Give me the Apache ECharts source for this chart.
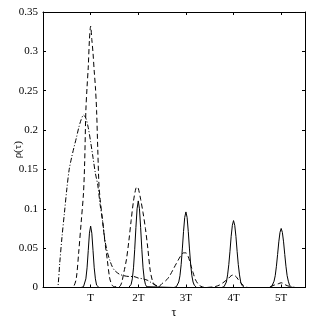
<!DOCTYPE html>
<html><head><meta charset="utf-8">
<script src="https://cdn.jsdelivr.net/npm/echarts@6/dist/echarts.min.js"></script>
<style>html,body{margin:0;padding:0;background:#fff}#c{width:311px;height:320px}</style>
</head><body><div id="c"></div>
<script>
// x in units of T
const xTicks = [1, 2, 3, 4, 5];
const xTickLabels = ['T', '2T', '3T', '4T', '5T'];

const solidX = [0,
 0.8,0.825,0.85,0.875,0.9,0.925,0.95,0.975,1.0,1.025,1.05,1.075,1.1,1.125,1.15,1.175,1.2,
 1.8,1.825,1.85,1.875,1.9,1.925,1.95,1.975,2.0,2.025,2.05,2.075,2.1,2.125,2.15,2.175,2.2,
 2.75,2.775,2.8,2.825,2.85,2.875,2.9,2.925,2.95,2.975,3.0,3.025,3.05,3.075,3.1,3.125,3.15,3.175,3.2,3.225,3.25,
 3.75,3.775,3.8,3.825,3.85,3.875,3.9,3.925,3.95,3.975,4.0,4.025,4.05,4.075,4.1,4.125,4.15,4.175,4.2,4.225,4.25,
 4.75,4.775,4.8,4.825,4.85,4.875,4.9,4.925,4.95,4.975,5.0,5.025,5.05,5.075,5.1,5.125,5.15,5.175,5.2,5.225,5.25,
 5.5];
const solidY = [0,
 0,0,0.001,0.003,0.011,0.025,0.047,0.069,0.078,0.069,0.047,0.025,0.011,0.003,0.001,0,0,
 0,0.001,0.004,0.011,0.025,0.048,0.076,0.1,0.11,0.1,0.076,0.048,0.025,0.011,0.004,0.001,0,
 0,0,0.001,0.003,0.007,0.015,0.029,0.049,0.071,0.089,0.096,0.089,0.071,0.049,0.029,0.015,0.007,0.003,0.001,0,0,
 0,0,0.001,0.003,0.007,0.016,0.029,0.046,0.065,0.079,0.085,0.079,0.065,0.046,0.029,0.016,0.007,0.003,0.001,0,0,
 0,0,0.001,0.003,0.008,0.015,0.027,0.042,0.058,0.070,0.075,0.070,0.058,0.042,0.027,0.015,0.008,0.003,0.001,0,0,
 0];

const dashX = [0,0.6,0.65,0.7,0.75,0.8,0.85,0.875,0.9,0.925,0.95,0.975,1.0,1.025,1.05,1.075,1.1,1.125,1.15,1.175,1.2,1.25,1.3,1.35,1.4,1.45,1.5,
 1.6,1.65,1.7,1.75,1.8,1.85,1.9,1.95,1.975,2.0,2.05,2.1,2.15,2.2,2.25,2.3,2.35,2.4,
 2.45,2.5,2.6,2.67,2.75,2.84,2.9,2.95,3.0,3.05,3.1,3.15,3.2,3.25,3.3,3.4,
 3.6,3.7,3.8,3.9,3.95,4.0,4.05,4.1,4.15,4.2,4.3,
 4.7,4.85,4.95,5.0,5.05,5.1,5.2,5.3,5.5];
const dashY = [0,0,0.002,0.012,0.045,0.082,0.12,0.16,0.225,0.255,0.28,0.315,0.332,0.315,0.298,0.275,0.255,0.225,0.175,0.13,0.112,0.085,0.058,0.035,0.012,0.003,0.001,
 0.001,0.006,0.02,0.035,0.058,0.085,0.11,0.126,0.128,0.126,0.112,0.095,0.075,0.05,0.022,0.008,0.003,0.001,
 0.002,0.005,0.01,0.016,0.025,0.035,0.041,0.044,0.044,0.039,0.029,0.019,0.01,0.005,0.002,0,
 0.001,0.003,0.007,0.012,0.015,0.016,0.014,0.01,0.006,0.003,0,
 0,0.003,0.005,0.006,0.005,0.003,0.001,0,0];

const dashDotX = [0,0.3,0.32,0.35,0.4,0.45,0.5,0.55,0.6,0.65,0.7,0.75,0.8,0.85,0.9,0.95,1.0,1.05,1.1,1.15,1.2,1.25,1.3,1.35,1.4,1.45,1.5,
 1.6,1.7,1.8,1.9,2.0,2.1,2.2,2.3,2.4,2.5,5.5];
const dashDotY = [0,0,0.005,0.03,0.065,0.095,0.125,0.15,0.165,0.178,0.19,0.203,0.213,0.219,0.215,0.203,0.185,0.165,0.145,0.13,0.105,0.085,0.06,0.045,0.035,0.027,0.022,
 0.017,0.015,0.014,0.014,0.012,0.011,0.009,0.005,0.002,0,0];

const yTicks = [0, 0.05, 0.1, 0.15, 0.2, 0.25, 0.3, 0.35];

const pairs = (xs, ys) => xs.map((x, i) => [x, ys[i]]);
const FONT = 'Liberation Serif';
const axisCommon = {
  axisLine: {show: true, onZero: false, lineStyle: {color: '#000', width: 1}},
  axisTick: {show: true, inside: true, length: 3, lineStyle: {color: '#000'}},
  splitLine: {show: false}
};
const chart = echarts.init(document.getElementById('c'), null, {renderer: 'canvas'});
chart.setOption({
  animation: false,
  backgroundColor: '#fff',
  grid: {left: 43, right: 6, top: 12, bottom: 32.5, containLabel: false, outerBoundsMode: 'none'},
  xAxis: [
    Object.assign({}, axisCommon, {
      type: 'value', min: 0, max: 5.5, interval: 1, position: 'bottom',
      name: 'τ', nameLocation: 'middle', nameGap: 19, nameMoveOverlap: false,
      nameTextStyle: {fontFamily: FONT, fontSize: 12, color: '#000'},
      axisLabel: {fontFamily: FONT, fontSize: 11, color: '#000', margin: 5,
        formatter: v => { const i = xTicks.indexOf(v); return i >= 0 ? xTickLabels[i] : ''; }}
    }),
    Object.assign({}, axisCommon, {
      type: 'value', min: 0, max: 5.5, interval: 1, position: 'top', axisLabel: {show: false}
    })
  ],
  yAxis: [
    Object.assign({}, axisCommon, {
      type: 'value', min: 0, max: 0.35, interval: 0.05, position: 'left',
      name: 'ρ(τ)', nameLocation: 'middle', nameGap: 19, nameRotate: 90, nameMoveOverlap: false,
      nameTextStyle: {fontFamily: FONT, fontSize: 11, color: '#000'},
      axisLabel: {fontFamily: FONT, fontSize: 11, color: '#000', margin: 5,
        formatter: v => { const t = yTicks.find(y => Math.abs(y - v) < 1e-9); return t === undefined ? '' : String(t); }}
    }),
    Object.assign({}, axisCommon, {
      type: 'value', min: 0, max: 0.35, interval: 0.05, position: 'right', axisLabel: {show: false}
    })
  ],
  series: [
    {type: 'line', data: pairs(dashDotX, dashDotY), showSymbol: false, smooth: 0.3,
     lineStyle: {color: '#000', width: 1, type: [5, 2, 1, 2]}},
    {type: 'line', data: pairs(dashX, dashY), showSymbol: false, smooth: 0.3,
     lineStyle: {color: '#000', width: 1, type: [5, 3]}},
    {type: 'line', data: pairs(solidX, solidY), showSymbol: false, smooth: false,
     lineStyle: {color: '#000', width: 1, type: 'solid'}}
  ]
});
</script></body></html>
